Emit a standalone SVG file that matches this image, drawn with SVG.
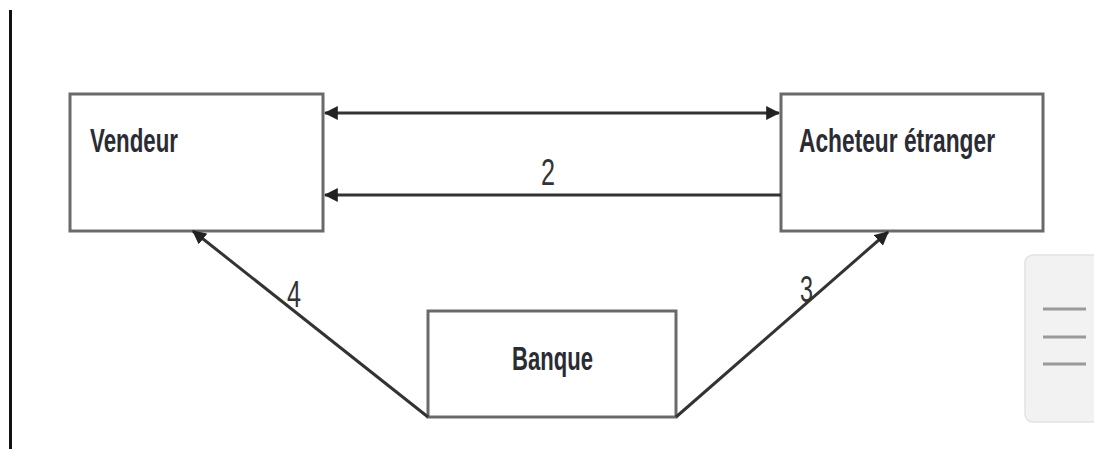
<svg xmlns="http://www.w3.org/2000/svg" width="1094" height="449" viewBox="0 0 1094 449">
  <style>
    .box { fill: #ffffff; stroke: #6a6a6a; stroke-width: 3; }
    .name { font-family: "Liberation Sans", Arial, sans-serif; font-weight: bold; font-size: 33px; fill: #2b2b33; }
    .num { font-family: "Liberation Sans", Arial, sans-serif; font-size: 36px; fill: #333333; }
    .link { fill: none; stroke: #333333; stroke-width: 3; }
    .menu-line { stroke: #9a9a9a; stroke-width: 3; }
  </style>
  <defs>
    <marker id="arrow" viewBox="0 0 12 12" refX="11" refY="6" markerWidth="14" markerHeight="14" markerUnits="userSpaceOnUse" orient="auto-start-reverse">
      <path d="M0,0 L12,6 L0,12 Z" fill="#222222"/>
    </marker>
  </defs>

  <rect width="1094" height="449" fill="#ffffff"/>

  <!-- left margin rule -->
  <rect x="9" y="10" width="3" height="439" fill="#111111"/>

  <g id="node-vendeur">
    <rect class="box" x="70" y="94" width="253" height="137"/>
    <text class="name" x="90" y="152" textLength="88" lengthAdjust="spacingAndGlyphs">Vendeur</text>
  </g>

  <g id="node-acheteur">
    <rect class="box" x="781" y="94" width="262" height="137"/>
    <text class="name" x="799" y="152" textLength="196" lengthAdjust="spacingAndGlyphs">Acheteur étranger</text>
  </g>

  <g id="node-banque">
    <rect class="box" x="428" y="311" width="248" height="106"/>
    <text class="name" x="512" y="370" textLength="81" lengthAdjust="spacingAndGlyphs">Banque</text>
  </g>

  <g id="connectors">
    <line class="link" x1="325" y1="113" x2="779" y2="113" marker-start="url(#arrow)" marker-end="url(#arrow)"/>
    <line class="link" x1="781" y1="195" x2="325" y2="195" marker-end="url(#arrow)"/>
    <line class="link" x1="428" y1="417" x2="193" y2="231" marker-end="url(#arrow)"/>
    <line class="link" x1="676" y1="417" x2="888" y2="232" marker-end="url(#arrow)"/>
    <text class="num" x="541" y="185" textLength="14" lengthAdjust="spacingAndGlyphs">2</text>
    <text class="num" x="287" y="307" textLength="14" lengthAdjust="spacingAndGlyphs">4</text>
    <text class="num" x="800" y="302" textLength="13" lengthAdjust="spacingAndGlyphs">3</text>
  </g>

  <!-- side menu handle -->
  <g id="menu-handle">
    <rect x="1025" y="255" width="85" height="167" rx="8" fill="#f2f2f2" stroke="#e2e2e2" stroke-width="1.5"/>
    <line class="menu-line" x1="1043" y1="309" x2="1086" y2="309"/>
    <line class="menu-line" x1="1043" y1="337" x2="1086" y2="337"/>
    <line class="menu-line" x1="1043" y1="364" x2="1086" y2="364"/>
  </g>
</svg>
